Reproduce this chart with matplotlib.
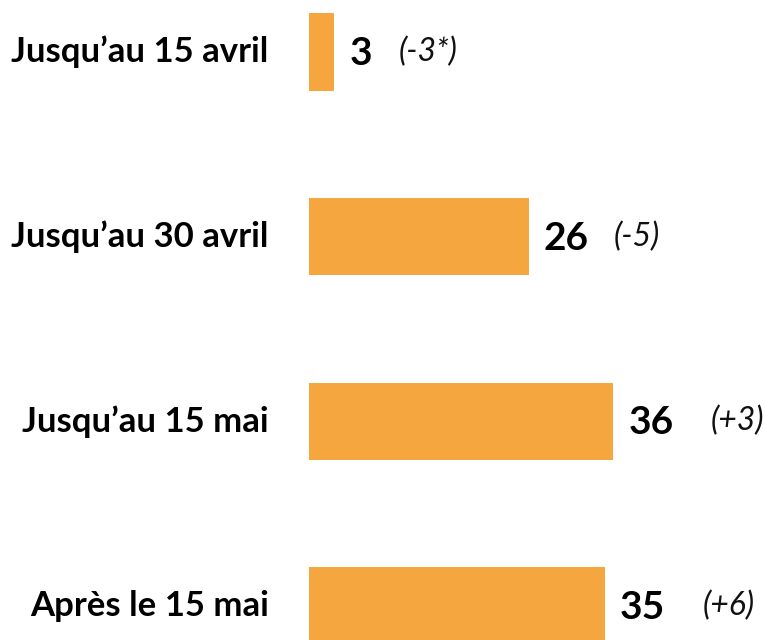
import matplotlib.pyplot as plt

# data
categories = ['Jusqu\u2019au 15 avril', 'Jusqu\u2019au 30 avril', 'Jusqu\u2019au 15 mai', 'Apr\u00e8s le 15 mai']
values = [3, 26, 36, 35]
changes = ['(-3*)', '(-5)', '(+3)', '(+6)']

bar_color = '#F6A63F'
plt.rcParams['font.family'] = ['Lato', 'DejaVu Sans']

fig = plt.figure(figsize=(7.65, 6.4), dpi=100)
ax = fig.add_axes([309 / 765, 0, 456 / 765, 1])

y = list(range(len(values)))
ax.barh(y, values, height=0.42, color=bar_color)
ax.set_xlim(0, 456 / 8.45)
ax.set_ylim(3.184, -0.282)
ax.axis('off')

# gap (points) between value label and change label
gaps = [19, 18, 27, 27]
for i, (v, c) in enumerate(zip(values, changes)):
    t = ax.annotate(str(v), xy=(v, i), xytext=(11, -1), textcoords='offset points',
                    ha='left', va='center', fontsize=28, fontweight='bold', color='black')
    fig.canvas.draw()
    bb = t.get_window_extent()
    x_end = ax.transData.inverted().transform((bb.x1, 0))[0]
    ax.annotate(c, xy=(x_end, i), xytext=(gaps[i], 0), textcoords='offset points',
                ha='left', va='center', fontsize=23, fontstyle='italic', color='#111111')
    ax.annotate(categories[i], xy=(0, i), xytext=(-29, 0), textcoords='offset points',
                ha='right', va='center', fontsize=25, fontweight='bold', color='black',
                annotation_clip=False)

fig.savefig('out.png', dpi=100)
